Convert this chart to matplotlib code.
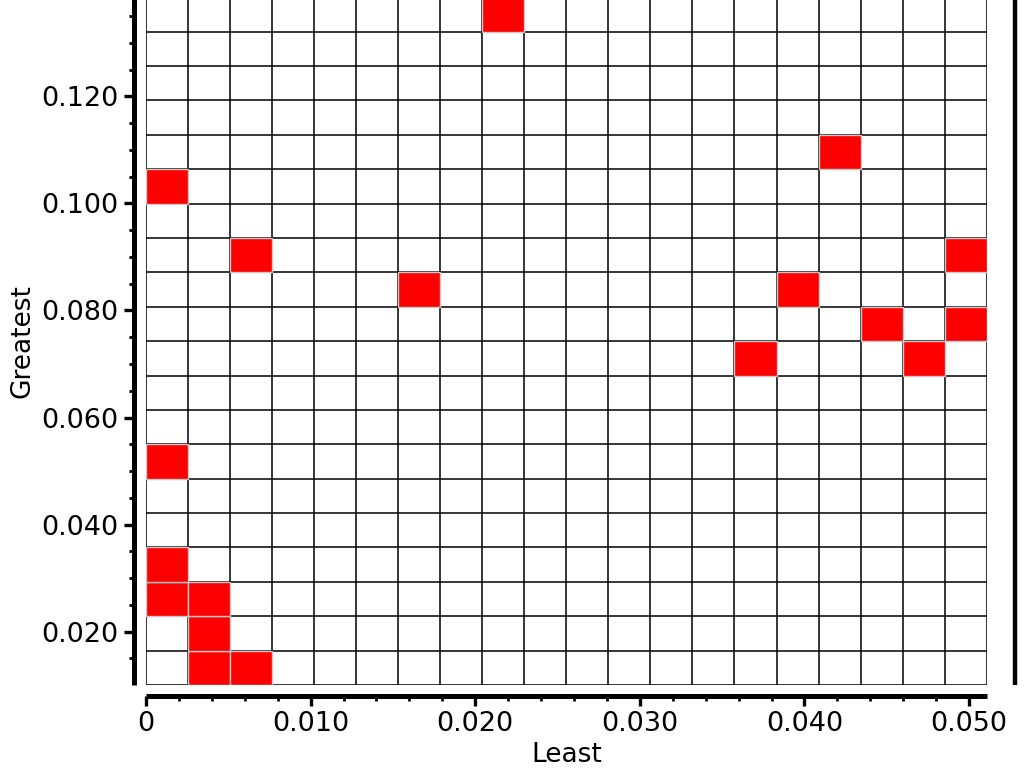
import numpy as np
import matplotlib
matplotlib.use("Agg")
import matplotlib.pyplot as plt
from matplotlib.patches import Rectangle
from matplotlib.ticker import MultipleLocator, FixedLocator
import matplotlib.transforms as mtransforms

least = [0.0217, 0.0421, 0.0013, 0.0064, 0.0498, 0.0166, 0.0396, 0.0447, 0.0498,
         0.0370, 0.0472, 0.0013, 0.0013, 0.0013, 0.0038, 0.0038, 0.0038, 0.0064]
greatest = [0.1352, 0.1096, 0.1031, 0.0903, 0.0903, 0.0839, 0.0839, 0.0775, 0.0775,
            0.0710, 0.0710, 0.0518, 0.0325, 0.0261, 0.0261, 0.0197, 0.0133, 0.0133]

x_range = [0.0, 0.05107]
y_range = [0.01005, 0.1385]
n_bins = 20

x_ticks = [0.0, 0.010, 0.020, 0.030, 0.040, 0.050]
x_tick_labels = ["0", "0.010", "0.020", "0.030", "0.040", "0.050"]
y_ticks = [0.020, 0.040, 0.060, 0.080, 0.100, 0.120]
y_tick_labels = ["0.020", "0.040", "0.060", "0.080", "0.100", "0.120"]

xedges = np.linspace(x_range[0], x_range[1], n_bins + 1)
yedges = np.linspace(y_range[0], y_range[1], n_bins + 1)
counts, _, _ = np.histogram2d(least, greatest, bins=[xedges, yedges])

fig = plt.figure(figsize=(10.24, 7.70), dpi=100)
ax = fig.add_axes([146 / 1024, 1 - 685 / 770, 840.7 / 1024, 687.7 / 770])
ax.set_xlim(x_range)
ax.set_ylim(y_range)

# grid lines
ax.vlines(xedges, y_range[0], y_range[1], colors="black", linewidth=1.1, zorder=1)
ax.hlines(yedges, x_range[0], x_range[1], colors="black", linewidth=1.1, zorder=1)

# occupied cells
for i in range(n_bins):
    for j in range(n_bins):
        if counts[i, j] > 0:
            ax.add_patch(Rectangle((xedges[i], yedges[j]), xedges[i + 1] - xedges[i],
                                   yedges[j + 1] - yedges[j], facecolor="#ff0000",
                                   edgecolor="#c8c8c8", linewidth=1.0, zorder=2))

# spines
ax.spines["top"].set_visible(False)
ax.spines["right"].set_visible(False)
ax.spines["left"].set_position(("outward", 9))
ax.spines["bottom"].set_position(("outward", 8))
ax.spines["left"].set_linewidth(3.6)
ax.spines["bottom"].set_linewidth(3.6)
for s in ["left", "bottom"]:
    ax.spines[s].set_color("black")
    ax.spines[s].set_capstyle("butt")

# thick right-hand frame line
offset = mtransforms.ScaledTranslation(28 / 100, 0, fig.dpi_scale_trans)
ax.plot([1, 1], [0, 1.05], transform=ax.transAxes + offset, color="black",
        linewidth=3.2, clip_on=False, solid_capstyle="butt")

ax.xaxis.set_major_locator(FixedLocator(x_ticks))
ax.set_xticklabels(x_tick_labels)
ax.xaxis.set_minor_locator(MultipleLocator(0.002))
ax.yaxis.set_major_locator(FixedLocator(y_ticks))
ax.set_yticklabels(y_tick_labels)
ax.yaxis.set_minor_locator(MultipleLocator(0.005))

ax.tick_params(axis="both", which="major", direction="out", length=7, width=2.4,
               labelsize=19.5, pad=4, color="black")
ax.tick_params(axis="both", which="minor", direction="out", length=3.5, width=2.0,
               color="black")
ax.tick_params(right=False, which="both")

ax.set_xlabel("Least", fontsize=19, labelpad=3)
ax.set_ylabel("Greatest", fontsize=19, labelpad=4)

fig.savefig("out.png", dpi=100)
